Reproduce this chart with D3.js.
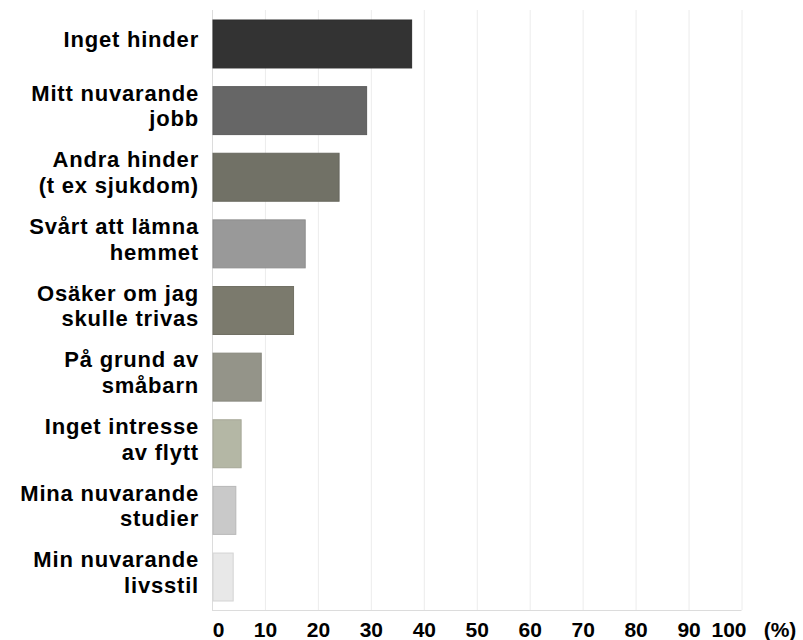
<!DOCTYPE html>
<html>
<head>
<meta charset="utf-8">
<script src="https://cdn.jsdelivr.net/npm/d3@7"></script>
<style>
body { margin: 0; background: #fff; }
text { font-family: "Liberation Sans", Arial, sans-serif; font-weight: bold; fill: #000; }
</style>
</head>
<body>
<div id="chart"></div>
<script>
// data
var categories = [
    "Inget hinder",
    "Mitt nuvarande\njobb",
    "Andra hinder\n(t ex sjukdom)",
    "Svårt att lämna\nhemmet",
    "Osäker om jag\nskulle trivas",
    "På grund av\nsmåbarn",
    "Inget intresse\nav flytt",
    "Mina nuvarande\nstudier",
    "Min nuvarande\nlivsstil"
];
var values = [37.7, 29.2, 24.0, 17.6, 15.4, 9.3, 5.5, 4.5, 4.0];
var colors = ["#333333", "#666666", "#717166", "#999999", "#7b7a6d", "#949489", "#b4b7a5", "#c9c9c9", "#e8e8e8"];
var ticks = [0, 10, 20, 30, 40, 50, 60, 70, 80, 90, 100];
var unitLabel = "(%)";

var w = 803;
var h = 640;
var mLeft = 212, mRight = 741.5, mTop = 10, mBottom = 610;

var svg = d3.select("#chart").append("svg")
    .attr("width", w)
    .attr("height", h);

var x = d3.scaleLinear().domain([0, 100]).range([mLeft, mRight]);
var y = d3.scaleBand()
    .domain(categories)
    .range([mTop, 611])
    .paddingInner(0.28)
    .paddingOuter(0.15);

// vertical grid
svg.append("g").attr("class", "grid")
    .selectAll("line")
    .data(ticks.slice(1))
    .enter()
    .append("line")
    .attr("x1", d => x(d) + 0.5)
    .attr("x2", d => x(d) + 0.5)
    .attr("y1", mTop)
    .attr("y2", mBottom)
    .attr("stroke", "#ececec")
    .attr("stroke-width", 1);

// axis lines
svg.append("line")
    .attr("x1", mLeft + 0.5).attr("x2", mLeft + 0.5)
    .attr("y1", mTop).attr("y2", mBottom)
    .attr("stroke", "#dcdcdc");
svg.append("line")
    .attr("x1", mLeft).attr("x2", mRight)
    .attr("y1", mBottom + 0.5).attr("y2", mBottom + 0.5)
    .attr("stroke", "#dcdcdc");

// bars
svg.append("g").attr("class", "bars")
    .selectAll("rect")
    .data(values)
    .enter()
    .append("rect")
    .attr("x", x(0) + 1)
    .attr("y", (d, i) => y(categories[i]))
    .attr("width", d => x(d) - x(0) - 1)
    .attr("height", y.bandwidth())
    .attr("fill", (d, i) => colors[i])
    .attr("stroke", (d, i) => d3.color(colors[i]).darker(0.25))
    .attr("stroke-width", 1);

// category labels
var lh = 25.5;
svg.append("g").attr("class", "labels")
    .selectAll("text")
    .data(categories)
    .enter()
    .append("text")
    .attr("text-anchor", "end")
    .style("font-size", "22px")
    .style("letter-spacing", "0.8px")
    .each(function(d) {
        var lines = d.split("\n");
        var yc = y(d) + y.bandwidth() / 2 - 5;
        var y0 = yc - (lines.length - 1) * lh / 2 + 8;
        var t = d3.select(this);
        lines.forEach(function(s, k) {
            t.append("tspan")
                .attr("x", 199)
                .attr("y", y0 + k * lh)
                .text(s);
        });
    });

// x axis labels
var xAxis = d3.axisBottom(x)
    .tickValues(ticks)
    .tickSize(0)
    .tickPadding(12)
    .tickFormat(d3.format("d"));

var gx = svg.append("g")
    .attr("transform", "translate(0," + mBottom + ")")
    .call(xAxis);
gx.select(".domain").remove();
gx.selectAll("text")
    .attr("fill", "#000")
    .style("font-size", "21px")
    .style("font-family", "'Liberation Sans', Arial, sans-serif")
    .style("font-weight", "bold")
    .attr("dx", (d, i) => i == 0 ? 6 : (i == ticks.length - 1 ? -13 : 0));

svg.append("text")
    .attr("x", 780)
    .attr("y", 637)
    .attr("text-anchor", "middle")
    .style("font-size", "21px")
    .text(unitLabel);
</script>
</body>
</html>
